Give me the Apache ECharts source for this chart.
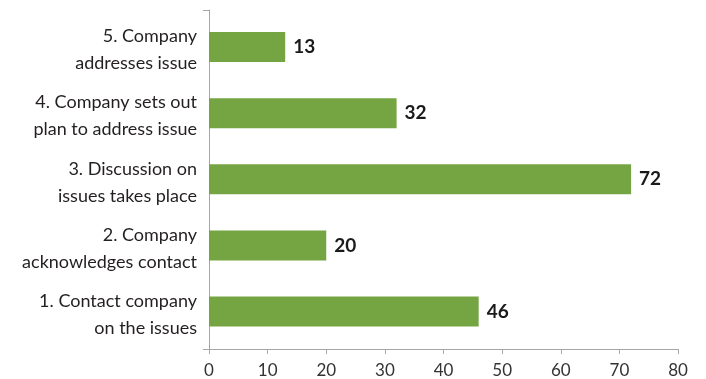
<!DOCTYPE html>
<html>
<head>
<meta charset="utf-8">
<script src="https://cdn.jsdelivr.net/npm/echarts@6/dist/echarts.min.js"></script>
<style>
html,body{margin:0;padding:0;background:#fff;}
#c{width:706px;height:379px;}
</style>
</head>
<body>
<div id="c"></div>
<script>
const categories = [
  "1. Contact company\non the issues",
  "2. Company\nacknowledges contact",
  "3. Discussion on\nissues takes place",
  "4. Company sets out\nplan to address issue",
  "5. Company\naddresses issue"
];
const values = [46, 20, 72, 32, 13];
const xTicks = [0, 10, 20, 30, 40, 50, 60, 70, 80];

const chart = echarts.init(document.getElementById('c'));
const FONT = 'Lato';
const AX = '#a6a6a6';
chart.setOption({
  animation: false,
  grid: [
    { left: 209, right: 28, top: 14, bottom: 34.4, containLabel: false },
    { left: 209, right: 28, top: 10, bottom: 30, containLabel: false },
    { left: 209, right: 28, top: 17, bottom: 31.4, containLabel: false }
  ],
  xAxis: [
    { gridIndex: 0, type: 'value', min: 0, max: 80, interval: 10, show: false },
    {
      gridIndex: 1, type: 'value', min: xTicks[0], max: xTicks[xTicks.length - 1], interval: 10,
      axisLine: { show: true, lineStyle: { color: AX, width: 1 } },
      axisTick: { show: true, length: 5, lineStyle: { color: AX } },
      splitLine: { show: false },
      axisLabel: { color: '#333', fontFamily: FONT, fontSize: 17, margin: 13 }
    },
    { gridIndex: 2, type: 'value', min: 0, max: 80, show: false }
  ],
  yAxis: [
    {
      gridIndex: 0, type: 'category', data: categories,
      axisLine: { show: false }, axisTick: { show: false },
      axisLabel: { show: false }
    },
    {
      gridIndex: 1, type: 'value', min: 0, max: 1, interval: 1,
      axisLine: { show: true, lineStyle: { color: AX, width: 1 } },
      axisTick: { show: true, length: 6, lineStyle: { color: AX } },
      axisLabel: { show: false },
      splitLine: { show: false }
    },
    {
      gridIndex: 2, type: 'category', data: categories,
      axisLine: { show: false }, axisTick: { show: false },
      axisLabel: {
        interval: 0,
        color: '#231f20', fontFamily: FONT, fontSize: 18, lineHeight: 27,
        align: 'right', margin: 12
      }
    }
  ],
  series: [{
    type: 'bar',
    xAxisIndex: 0, yAxisIndex: 0,
    data: values,
    barWidth: 30,
    itemStyle: { color: '#74a542' },
    label: {
      show: true, position: 'right', distance: 8,
      color: '#1a1a1a', fontFamily: FONT, fontWeight: 'bold', fontSize: 19
    }
  }]
});
</script>
</body>
</html>
